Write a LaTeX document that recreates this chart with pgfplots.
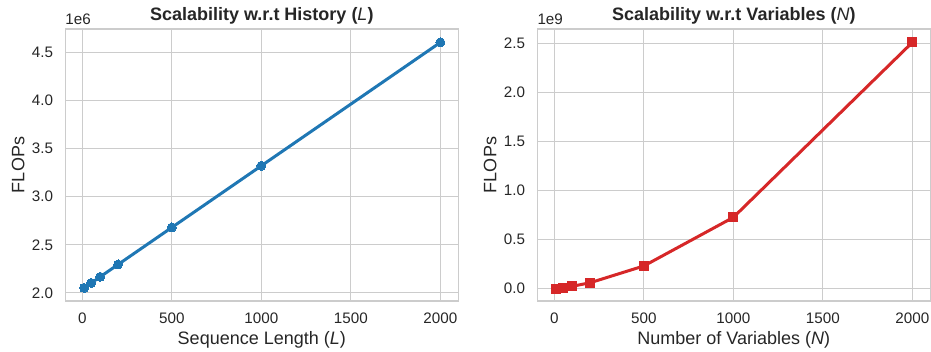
\documentclass[border=0pt]{standalone}
\usepackage{pgfplots}
\pgfplotsset{compat=1.18}
\usepackage{fontspec}
\setmainfont{Liberation Sans}
\definecolor{tabblue}{HTML}{1F77B4}
\definecolor{tabred}{HTML}{D62728}
\definecolor{gridc}{HTML}{CCCCCC}
\definecolor{txt}{HTML}{262626}
\pgfplotsset{
  sbstyle/.style={
    scale only axis, width=393bp, height=272bp,
    axis line style={gridc, line width=1.1bp},
    grid=major, major grid style={gridc, line width=1bp},
    tick style={draw=none}, major tick length=0pt,
    xmin=-95, xmax=2100, xtick={0,500,1000,1500,2000},
    scaled ticks=false,
    /pgf/number format/assume math mode=true,
    /pgf/number format/1000 sep={},
    ticklabel style={font=\fontsize{15.2bp}{16bp}\selectfont, text=txt, inner sep=0pt},
    xticklabel style={yshift=-12bp},
    yticklabel style={xshift=-12bp, /pgf/number format/fixed, /pgf/number format/fixed zerofill, /pgf/number format/precision=1},
    label style={font=\fontsize{18bp}{19bp}\selectfont, text=txt},
    title style={font=\fontsize{18bp}{19bp}\selectfont\bfseries, text=txt, at={(axis description cs:0.5,1.048)}, anchor=center, yshift=-6pt},
    xlabel style={at={(axis description cs:0.5,-0.143)}, anchor=center},
    ylabel style={at={(axis description cs:-0.12,0.5)}, anchor=center},
    clip=false,
  }
}
\begin{document}
\begin{tikzpicture}
\path[use as bounding box] (0,0) rectangle (931bp,352bp);
\begin{axis}[sbstyle, at={(65.3bp,51bp)}, anchor=south west,
  ymin=1.917, ymax=4.739, ytick={2.0,2.5,3.0,3.5,4.0,4.5},
  title={Scalability w.r.t History (\textmd{\textit{L}})},
  xlabel={Sequence Length (\textit{L})},
  ylabel={FLOPs},
]
\addplot[tabblue, line width=3bp, mark=*, mark size=4.5bp, mark options={solid, fill=tabblue, draw=tabblue, line width=0pt}]
  coordinates {(10,2.053) (50,2.104) (100,2.168) (200,2.296) (500,2.680) (1000,3.320) (2000,4.600)};
\node[anchor=south west, inner sep=0pt, font=\fontsize{15.2bp}{16bp}\selectfont, text=txt] at (rel axis cs:0,1) [yshift=4bp] {1e6};
\end{axis}
\begin{axis}[sbstyle, at={(537.3bp,51bp)}, anchor=south west,
  ymin=-0.125, ymax=2.646, ytick={0.0,0.5,1.0,1.5,2.0,2.5},
  title={Scalability w.r.t Variables (\textmd{\textit{N}})},
  xlabel={Number of Variables (\textit{N})},
  ylabel={FLOPs},
]
\addplot[tabred, line width=3bp, mark=square*, mark size=4.5bp, mark options={solid, fill=tabred, draw=tabred, line width=0pt}]
  coordinates {(10,0.002) (50,0.011) (100,0.025) (200,0.061) (500,0.232) (1000,0.727) (2000,2.510)};
\node[anchor=south west, inner sep=0pt, font=\fontsize{15.2bp}{16bp}\selectfont, text=txt] at (rel axis cs:0,1) [yshift=4bp] {1e9};
\end{axis}
\end{tikzpicture}
\end{document}
